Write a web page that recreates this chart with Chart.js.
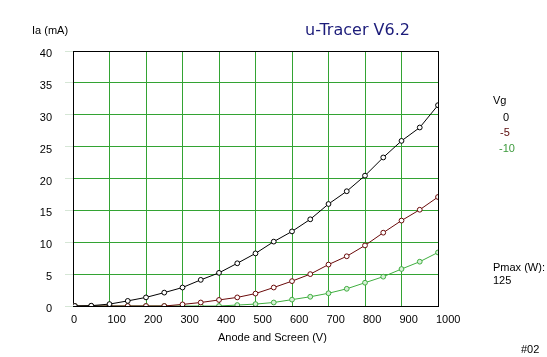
<!DOCTYPE html>
<html>
<head>
<meta charset="utf-8">
<script src="https://cdn.jsdelivr.net/npm/chart.js@4"></script>
<style>
  html, body { margin: 0; padding: 0; background: #ffffff; }
  #wrap { width: 547px; height: 357px; position: relative; }
</style>
</head>
<body>
<div id="wrap"><canvas id="c" width="547" height="357"></canvas></div>
<script>
// ---- data ----
const anodeVoltages = [5, 50, 100, 150, 200, 250, 300, 350, 400, 450, 500, 550, 600, 650, 700, 750, 800, 850, 900, 950, 1000];
const iaVg0   = [0, 0.05, 0.3, 0.8, 1.35, 2.1, 2.9, 4.1, 5.2, 6.7, 8.25, 10.1, 11.7, 13.6, 16.0, 18.0, 20.45, 23.3, 25.9, 28.0, 31.5];
const iaVgM5  = [0, 0, 0, 0, 0, 0, 0.25, 0.55, 0.95, 1.35, 1.95, 2.9, 3.9, 5.0, 6.5, 7.8, 9.5, 11.5, 13.4, 15.1, 17.1];
const iaVgM10 = [0, 0, 0, 0, 0, 0, 0, 0, 0, 0.15, 0.3, 0.55, 1.0, 1.45, 2.0, 2.7, 3.65, 4.6, 5.8, 6.95, 8.4];
const gridVoltages = ['0', '-5', '-10'];
const xTickValues = [0, 100, 200, 300, 400, 500, 600, 700, 800, 900, 1000];
const yTickValues = [0, 5, 10, 15, 20, 25, 30, 35, 40];
const chartTitle = 'u-Tracer V6.2';
const yAxisTitle = 'Ia (mA)';
const xAxisTitle = 'Anode and Screen (V)';
const legendTitle = 'Vg';
const pmaxLabel = 'Pmax (W):';
const pmaxValue = '125';
const tubeId = '#02';

const seriesColors = ['#000000', '#6a0a0a', '#3fae3f'];
const legendColors = ['#000000', '#5a0a0a', '#3c9a3c'];

function pts(ys) { return anodeVoltages.map((v, i) => ({ x: v, y: ys[i] })); }

const FONT = "'Liberation Sans', Arial, sans-serif";
Chart.defaults.font.family = FONT;
Chart.defaults.font.size = 11;
Chart.defaults.color = '#000000';

const textPlugin = {
  id: 'texts',
  beforeDatasetsDraw(chart) {
    const ctx = chart.ctx, a = chart.chartArea;
    ctx.save();
    ctx.strokeStyle = '#000000';
    ctx.lineWidth = 1;
    ctx.strokeRect(Math.round(a.left) + 0.5, Math.round(a.top) + 0.5, Math.round(a.right - a.left), Math.round(a.bottom - a.top));
    ctx.restore();
  },
  afterDraw(chart) {
    const ctx = chart.ctx;
    ctx.save();
    ctx.textBaseline = 'middle';
    // title
    ctx.font = "16px 'DejaVu Sans', sans-serif";
    ctx.fillStyle = '#1c1c7a';
    ctx.textAlign = 'left';
    ctx.fillText(chartTitle, 305, 31);
    // y axis title
    ctx.font = '11px ' + FONT;
    ctx.fillStyle = '#000000';
    ctx.fillText(yAxisTitle, 32, 31);
    // x axis title
    ctx.fillText(xAxisTitle, 218, 338);
    // legend
    ctx.fillText(legendTitle, 493, 101);
    const lx = [503, 500, 499];
    gridVoltages.forEach((g, i) => {
      ctx.fillStyle = legendColors[i];
      ctx.fillText(g, lx[i], 117.5 + i * 15.7);
    });
    ctx.fillStyle = '#000000';
    ctx.fillText(pmaxLabel, 493, 268);
    ctx.fillText(pmaxValue, 493, 281);
    ctx.fillText(tubeId, 521, 350);
    ctx.restore();
  }
};

const mkDs = (label, ys, i) => ({
  label,
  data: pts(ys),
  borderColor: seriesColors[i],
  backgroundColor: '#ffffff',
  pointBorderColor: seriesColors[i],
  pointBackgroundColor: i === 2 ? '#d8f0d8' : '#ffffff',
  pointStyle: 'circle',
  pointRadius: 2.4,
  pointBorderWidth: 1,
  borderWidth: 1,
  tension: 0,
  fill: false
});

new Chart(document.getElementById('c'), {
  type: 'line',
  data: {
    datasets: [
      mkDs(gridVoltages[0], iaVg0, 0),
      mkDs(gridVoltages[1], iaVgM5, 1),
      mkDs(gridVoltages[2], iaVgM10, 2)
    ]
  },
  options: {
    responsive: false,
    devicePixelRatio: 1,
    animation: false,
    events: [],
    layout: { padding: { left: 0, top: 51, right: 109, bottom: 0 } },
    plugins: { legend: { display: false }, title: { display: false }, tooltip: { enabled: false } },
    scales: {
      x: {
        type: 'linear',
        min: 0, max: 1000,
        afterBuildTicks(s) { s.ticks = xTickValues.map(v => ({ value: v })); },
        afterFit(s) { s.height = 51; },
        grid: { color: '#33a333', lineWidth: 1, drawTicks: false },
        border: { color: '#000000', width: 1 },
        ticks: { align: 'start', labelOffset: -2, padding: 7, color: '#000000', font: { size: 11 }, maxRotation: 0, autoSkip: false, callback: v => String(v) }
      },
      y: {
        type: 'linear',
        min: 0, max: 40,
        afterBuildTicks(s) { s.ticks = yTickValues.map(v => ({ value: v })); },
        afterFit(s) { s.width = 73; },
        grid: { color: '#33a333', lineWidth: 1, tickLength: 8, tickColor: '#d6e6d6' },
        border: { color: '#000000', width: 1 },
        ticks: { padding: 13, labelOffset: 3, color: '#000000', font: { size: 11 }, callback: v => String(v) }
      }
    }
  },
  plugins: [textPlugin]
});
</script>
</body>
</html>
